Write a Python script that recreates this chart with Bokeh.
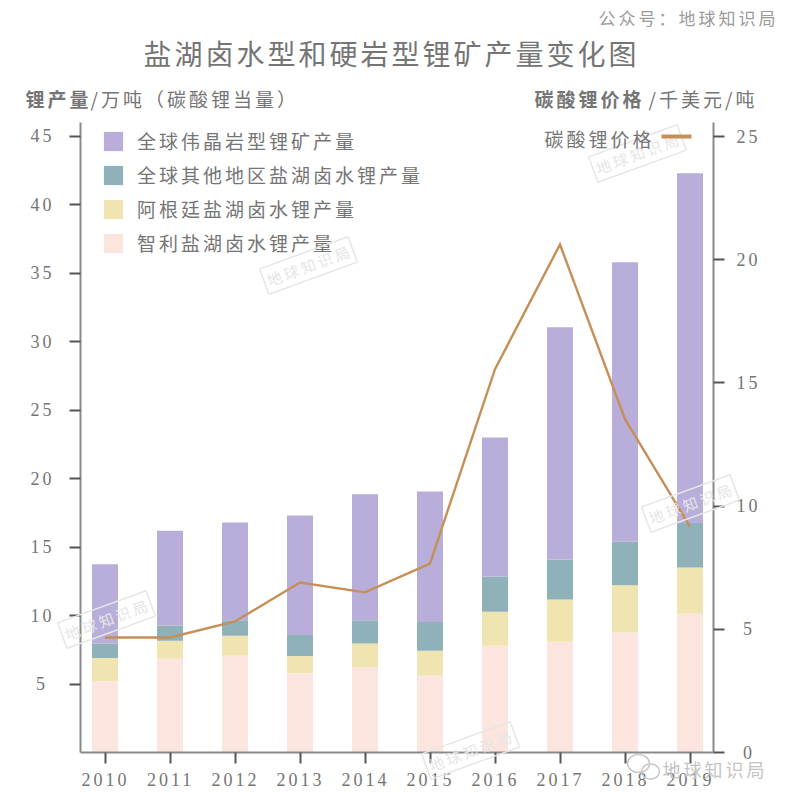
from bokeh.embed import file_html
from bokeh.layouts import column
from bokeh.models import (BoxAnnotation, ColumnDataSource, FixedTicker, Label, Legend,
                          LegendItem, LinearAxis, Range1d, Row)
from bokeh.plotting import figure
from bokeh.resources import INLINE

years = [2010, 2011, 2012, 2013, 2014, 2015, 2016, 2017, 2018, 2019]
chile = [5.2, 6.85, 7.07, 5.78, 6.22, 5.61, 7.8, 8.09, 8.77, 10.13]
argentina = [1.7, 1.31, 1.46, 1.27, 1.73, 1.82, 2.48, 3.09, 3.45, 3.37]
other_brine = [1.05, 1.12, 1.12, 1.53, 1.7, 2.1, 2.57, 2.91, 3.16, 3.26]
spodumene = [5.8, 6.92, 7.15, 8.72, 9.2, 9.52, 10.15, 16.96, 20.42, 25.54]
price = [4.67, 4.67, 5.32, 6.9, 6.5, 7.67, 15.56, 20.62, 13.53, 9.17]

series_names = ["全球伟晶岩型锂矿产量", "全球其他地区盐湖卤水锂产量", "阿根廷盐湖卤水锂产量", "智利盐湖卤水锂产量"]
price_name = "碳酸锂价格"
title_text = "盐湖卤水型和硬岩型锂矿产量变化图"
left_ticks = [5, 10, 15, 20, 25, 30, 35, 40, 45]
right_ticks = [0, 5, 10, 15, 20, 25]

CJK = "Noto Sans CJK SC"
NUM = "Liberation Serif"
TXT = "#757575"
W, H = 785, 792

p = figure(width=W, height=H, output_backend="svg", toolbar_location=None,
           x_range=Range1d(2010 - 24.5 / 65, 2019 + 23.5 / 65), y_range=Range1d(0, 46),
           min_border_left=80, min_border_right=72, min_border_top=122, min_border_bottom=39,
           outline_line_color=None, background_fill_color="white",
           styles={"letter-spacing": "3px"})
p.grid.visible = False
p.extra_y_ranges = {"price": Range1d(0, 25.57)}


def style_axis(ax):
    ax.axis_line_color = "#8a8a8a"
    ax.axis_line_width = 2
    ax.major_tick_line_color = "#555555"
    ax.major_tick_line_width = 2
    ax.major_tick_out = 11
    ax.major_tick_in = 0
    ax.minor_tick_line_color = None
    ax.major_label_text_font = NUM
    ax.major_label_text_font_size = "18px"
    ax.major_label_text_color = TXT


ax_b = p.xaxis[0]
ax_b.ticker = FixedTicker(ticks=years)
ax_b.major_label_overrides = {y: f"{y}\u2009\u2009\u2009" for y in years}
style_axis(ax_b)
ax_b.major_label_standoff = 6

ax_l = p.yaxis[0]
ax_l.ticker = FixedTicker(ticks=left_ticks)
ax_l.major_label_overrides = {5: "5\u2009"}
style_axis(ax_l)
ax_l.major_label_standoff = 21

ax_r = LinearAxis(y_range_name="price", ticker=FixedTicker(ticks=right_ticks),
                  major_label_overrides={0: "\u20090", 5: "\u20095"})
style_axis(ax_r)
ax_r.major_label_standoff = 12
p.add_layout(ax_r, "right")

source = ColumnDataSource(dict(year=years, chile=chile, argentina=argentina,
                               other=other_brine, spodumene=spodumene, price=price))
bars = p.vbar_stack(["chile", "argentina", "other", "spodumene"], x="year", width=0.4,
                    color=["#FBE5DE", "#F0E5B0", "#8FB1B9", "#B9AED9"], line_color=None,
                    source=source)
p.line("year", "price", source=source, y_range_name="price", line_color="#C58F57",
       line_width=2.4, line_join="miter")

legend = Legend(items=[LegendItem(label=series_names[0], renderers=[bars[3]]),
                       LegendItem(label=series_names[1], renderers=[bars[2]]),
                       LegendItem(label=series_names[2], renderers=[bars[1]]),
                       LegendItem(label=series_names[3], renderers=[bars[0]])],
                location=(21, 496), orientation="vertical", glyph_width=24, glyph_height=24,
                spacing=7, padding=0, margin=0, label_standoff=12,
                label_text_font=CJK, label_text_font_size="19px", label_text_color=TXT,
                border_line_color=None, background_fill_alpha=0)
p.add_layout(legend)

# Transparent layer spanning the whole page: its frame is the full canvas, so the
# titles and stamps that sit outside the chart's frame are not clipped away.
layer = figure(width=W, height=H, output_backend="svg", toolbar_location=None,
               frame_width=W, frame_height=H,
               x_range=Range1d(0, W), y_range=Range1d(H, 0),
               x_axis_location=None, y_axis_location=None,
               min_border=0, outline_line_color=None,
               background_fill_alpha=0, border_fill_alpha=0)
layer.grid.visible = False
holder = Row(children=[layer], width=W, height=H,
             styles={"letter-spacing": "3px", "position": "absolute", "left": "0px",
                     "top": "0px", "pointer-events": "none"})


def label(text, x, y, size, color=TXT, font=CJK, style="normal", align="left", angle=0,
          border=None):
    """x, y are page pixels measured from the window's top-left corner."""
    lb = Label(x=x, y=y, x_units="canvas", y_units="canvas", text=text,
               text_font=font, text_font_size=f"{size}px", text_font_style=style,
               text_color=color, text_align=align, text_baseline="middle",
               angle=angle, angle_units="deg")
    if border:
        lb.border_line_color = border
        lb.border_line_width = 1.5
        lb.padding = (3, 16, 3, 3)
    layer.add_layout(lb)


for (sx, sy) in [(308, 265), (637, 153), (106, 619), (690, 503), (470, 750)]:
    label("地球知识局", sx, sy, 15, color="#e6e6e6", align="center", angle=20, border="#e6e6e6")

label(title_text, 143, 52, 28)
label("公众号：地球知识局", 598, 17, 17, color="#9a9a9a")
label("锂产量", 25, 98, 19, style="bold")
label("/万吨（碳酸锂当量）", 90, 98, 19)
label(price_name, 534, 98, 19, style="bold")
label("/千美元/吨", 648, 98, 19)
label(price_name, 544, 138, 19)
label("地球知识局", 662, 768, 18, color="#c4c4c4")

# WeChat-style badge in front of the bottom-right credit
layer.ellipse(x=[638, 650], y=[763, 771], width=[22, 18], height=[18, 15],
              fill_color=None, line_color="#c8c8c8", line_width=1.5)

layer.add_layout(BoxAnnotation(left=661, right=691, top=134, bottom=138,
                               left_units="canvas", right_units="canvas", top_units="canvas",
                               bottom_units="canvas", fill_color="#C58F57", fill_alpha=1,
                               line_color=None))

open("out.html", "w").write(file_html(column(p, holder), INLINE))
